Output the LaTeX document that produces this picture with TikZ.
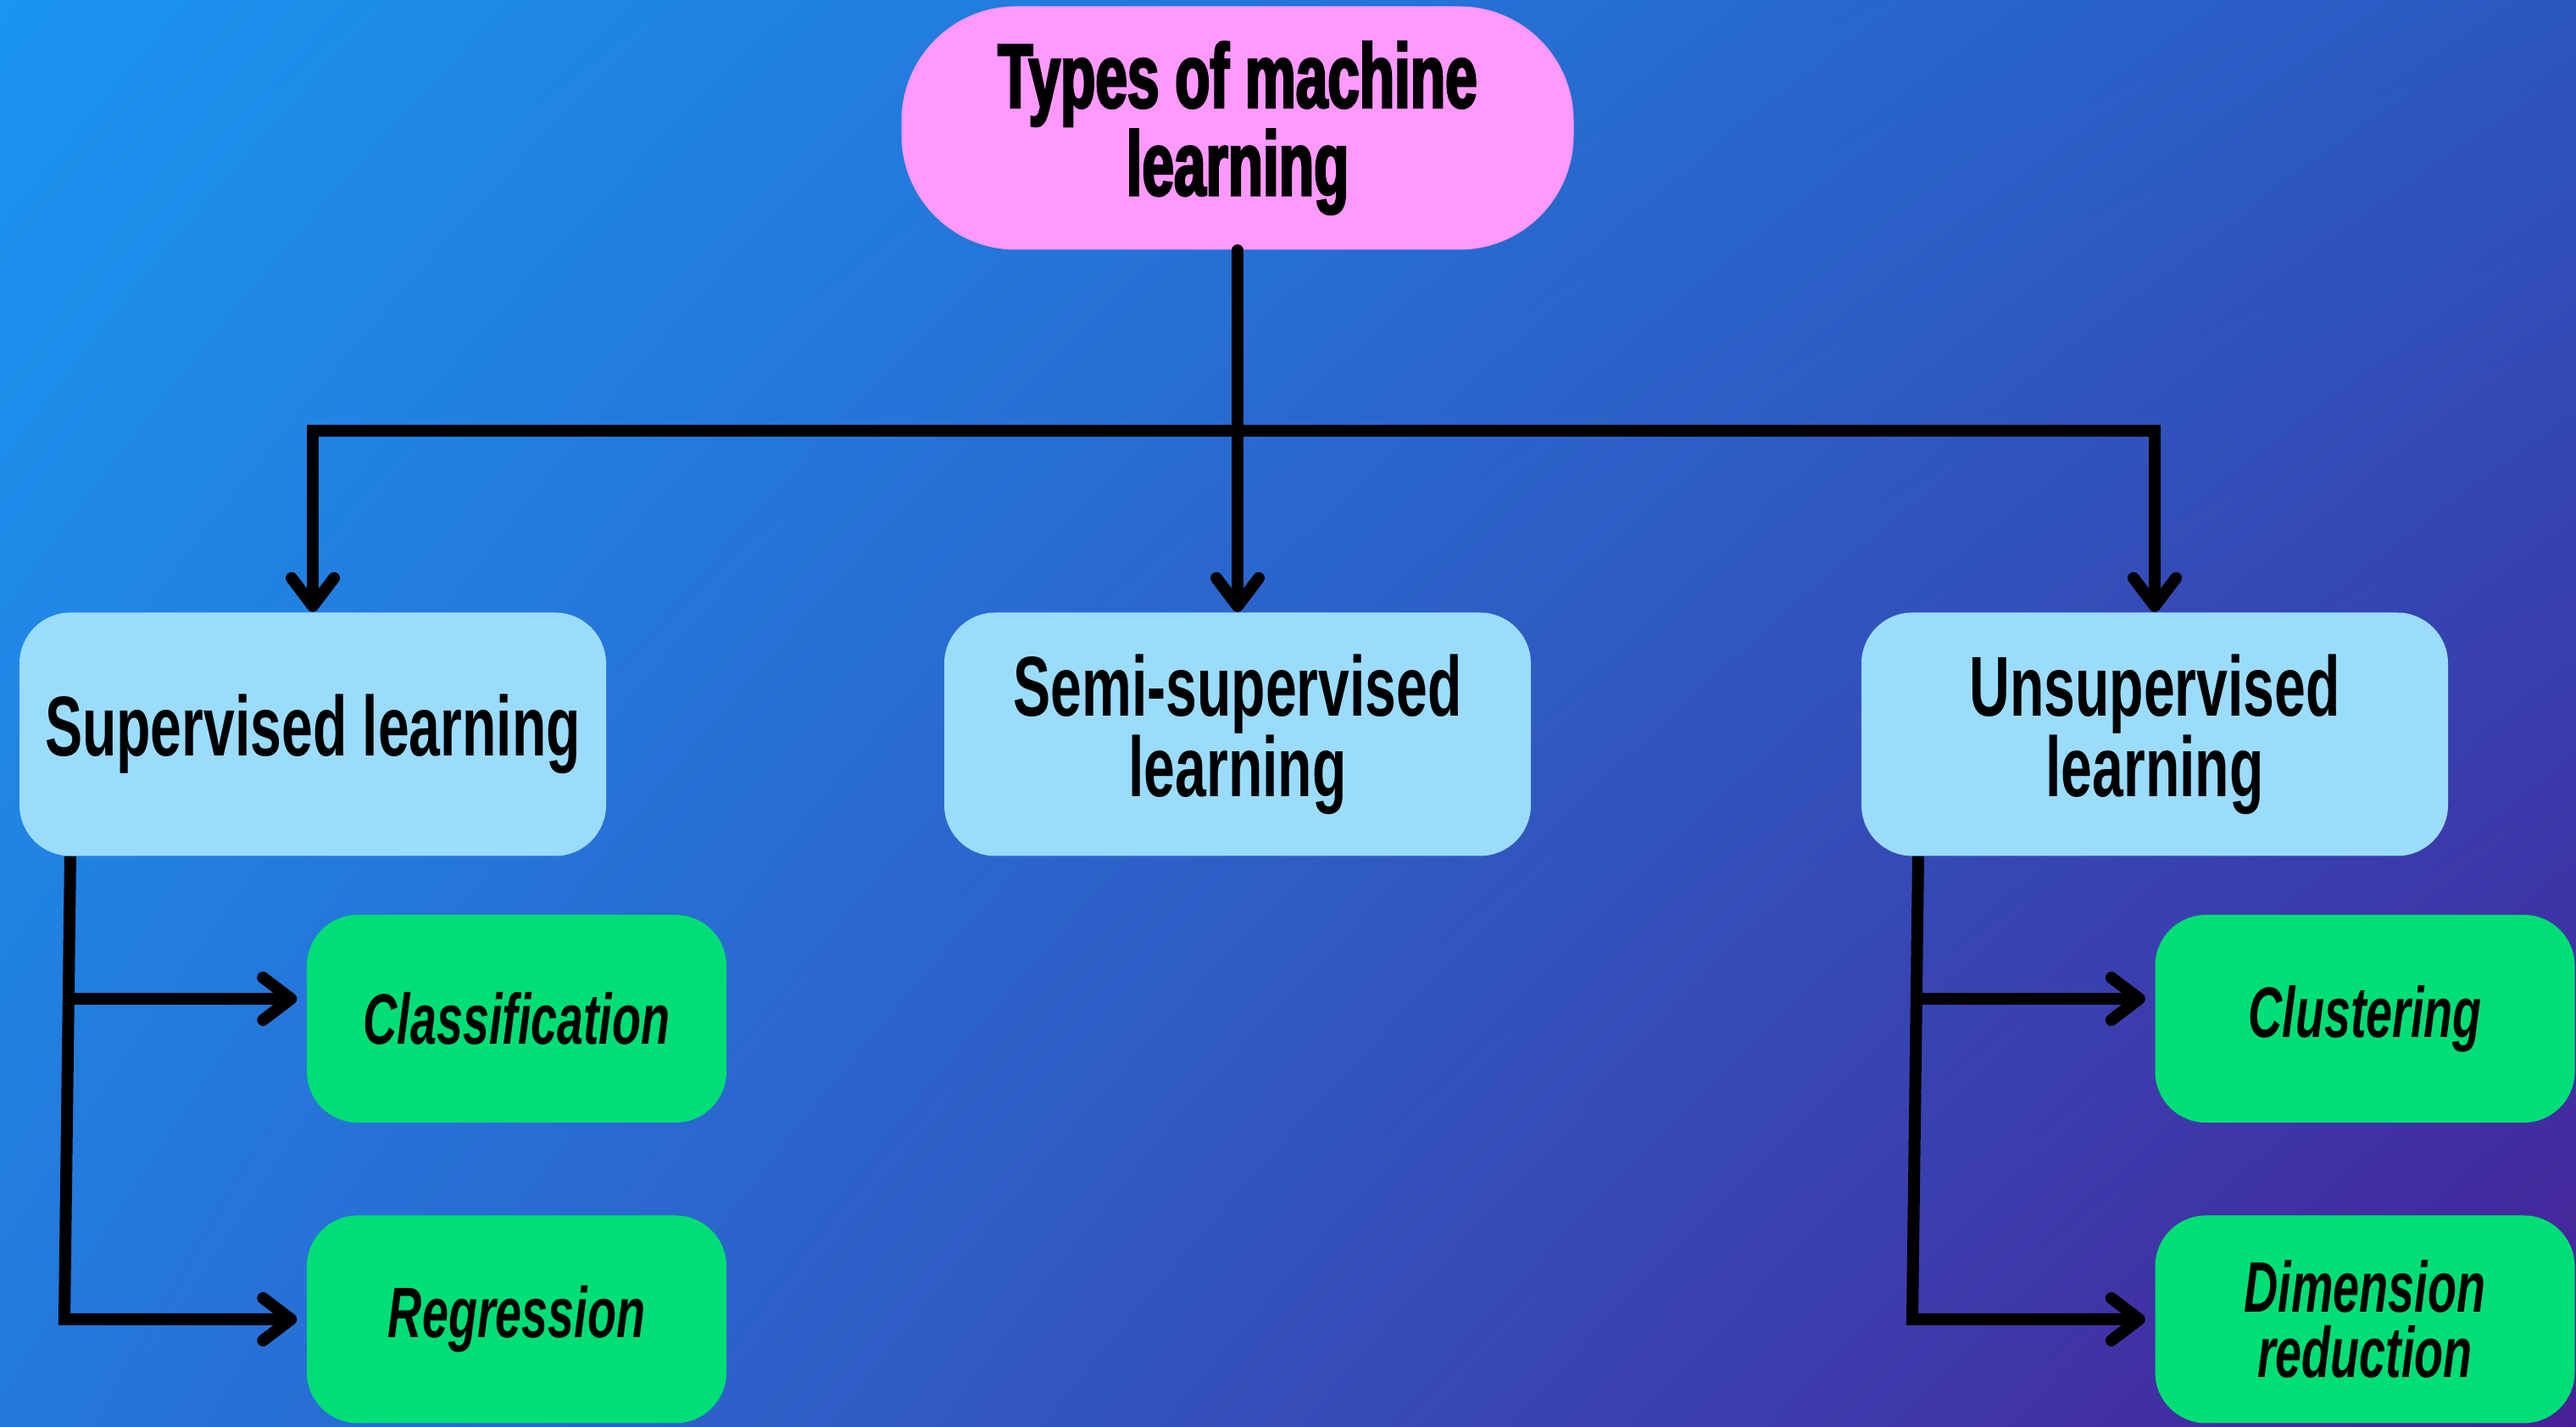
\documentclass[tikz,border=0pt]{standalone}
\usepackage{fontspec}
\usepackage{xcolor}
\usepackage{tikz}
\usetikzlibrary{arrows.meta,shadings}
\newfontfamily\narrowfont[FakeStretch=0.66]{Liberation Sans}
\newfontfamily\headfont[FakeStretch=0.63,FakeBold=2.5]{Liberation Sans}
\definecolor{bgtl}{RGB}{27,149,240}
\definecolor{bgtr}{RGB}{44,86,192}
\definecolor{bgbl}{RGB}{36,120,220}
\definecolor{bgbr}{RGB}{72,32,150}
\definecolor{rootpink}{RGB}{255,153,255}
\definecolor{typeblue}{RGB}{155,220,253}
\definecolor{taskgreen}{RGB}{0,222,118}
\tikzset{
  rootbox/.style={fill=rootpink, rounded corners=1.35cm, minimum width=7.93cm, minimum height=2.87cm, align=center, font=\headfont\bfseries\fontsize{30.5}{27.5}\selectfont},
  typebox/.style={fill=typeblue, rounded corners=0.6cm, minimum width=6.92cm, minimum height=2.87cm, align=center, font=\narrowfont\bfseries\fontsize{28.5}{27}\selectfont},
  taskbox/.style={fill=taskgreen, rounded corners=0.6cm, minimum width=4.95cm, minimum height=2.45cm, align=center, font=\narrowfont\bfseries\itshape\fontsize{24}{22}\selectfont},
  link/.style={line width=0.14cm},
  arr/.style={link, -{Straight Barb[length=0.33cm,width=0.5cm,round]}}
}
\begin{document}
\begin{tikzpicture}
\useasboundingbox (0,0) rectangle (30.39,16.83);
\shade[upper left=bgtl, upper right=bgtr, lower left=bgbl, lower right=bgbr] (0,0) rectangle (30.39,16.83);

\node[rootbox] (root) at (14.60,15.32) {Types of machine\\learning};
\node[typebox] (sup) at (3.69,8.17) {Supervised learning};
\node[typebox] (semi) at (14.60,8.17) {Semi-supervised\\learning};
\node[typebox] (unsup) at (25.42,8.17) {Unsupervised\\learning};
\node[taskbox] (class) at (6.095,4.815) {Classification};
\node[taskbox] (regr) at (6.095,1.27) {Regression};
\node[taskbox] (clust) at (27.90,4.815) {Clustering};
\node[taskbox] (dimred) at (27.90,1.27) {Dimension\\reduction};

\coordinate (bar) at (14.60,11.75);
\draw[arr, line cap=round] (root.south) -- (semi.north);
\draw[arr] (bar) -| (sup.north);
\draw[arr] (bar) -| (unsup.north);

\coordinate (stop) at (0.83,6.73);
\coordinate (sbr) at (0.80,5.05);
\coordinate (sbot) at (0.76,1.27);
\draw[arr, shorten >=0.11cm] (stop) -- (sbot) -- (sbot -| regr.west);
\draw[arr, shorten >=0.11cm] (sbr) -- (sbr -| class.west);

\coordinate (utop) at (22.63,6.73);
\coordinate (ubr) at (22.60,5.05);
\coordinate (ubot) at (22.56,1.27);
\draw[arr, shorten >=0.11cm] (utop) -- (ubot) -- (ubot -| dimred.west);
\draw[arr, shorten >=0.11cm] (ubr) -- (ubr -| clust.west);
\end{tikzpicture}
\end{document}
